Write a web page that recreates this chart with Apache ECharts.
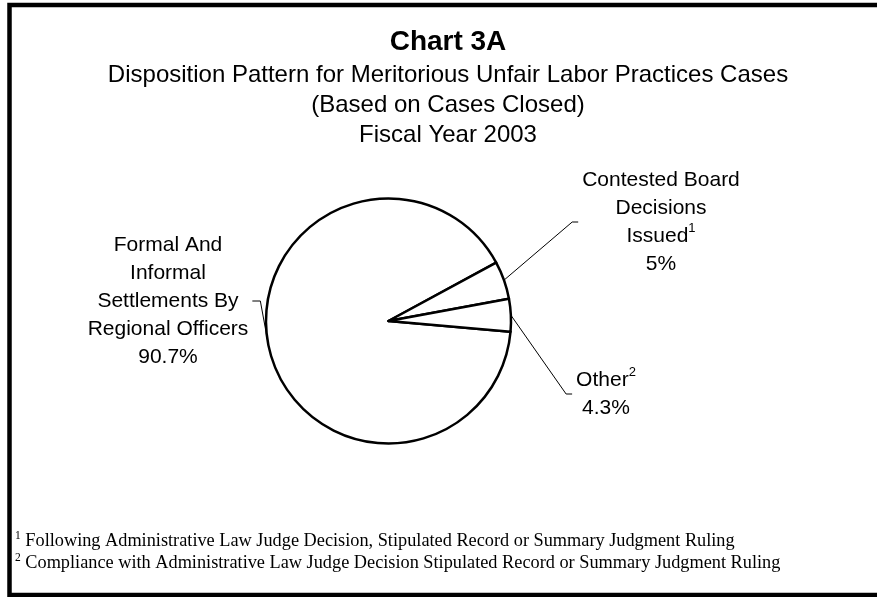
<!DOCTYPE html>
<html>
<head>
<meta charset="utf-8">
<title>Chart 3A</title>
<script src="https://cdn.jsdelivr.net/npm/echarts@6/dist/echarts.min.js"></script>
<style>
  html, body { margin: 0; padding: 0; background: #fff; }
  #chart { width: 877px; height: 597px; }
</style>
</head>
<body>
<div id="chart"></div>
<script>
// data
const categories = [
  'Formal And\nInformal\nSettlements By\nRegional Officers',
  'Contested Board\nDecisions\nIssued',
  'Other'
];
const noteMarks = ['', '1', '2'];
const shares = [90.7, 5, 4.3];

const titleText = 'Chart 3A';
const subtitleLines = [
  'Disposition Pattern for Meritorious Unfair Labor Practices Cases',
  '(Based on Cases Closed)',
  'Fiscal Year 2003'
];
const footnotes = [
  'Following Administrative Law Judge Decision, Stipulated Record or Summary Judgment Ruling',
  'Compliance with Administrative Law Judge Decision Stipulated Record or Summary Judgment Ruling'
];

// label block centres, and which side the leader line comes in from
const labelSpots = [
  { x: 168, y: 301, side: 'left' },
  { x: 661, y: 222, side: 'right' },
  { x: 606, y: 394, side: 'right' }
];

const sans = '"Liberation Sans", Arial, Helvetica, sans-serif';
const serif = '"Liberation Serif", "Times New Roman", serif';

const chart = echarts.init(document.getElementById('chart'));

const pieData = categories.map((name, i) => ({ name, value: shares[i] }));

const option = {
  backgroundColor: '#fff',
  animation: false,
  graphic: [
    {
      type: 'rect',
      silent: true,
      shape: { x: 9.5, y: 5, width: 900, height: 590 },
      style: { fill: 'none', stroke: '#000', lineWidth: 4.5 }
    },
    {
      type: 'text',
      x: 448,
      y: 42,
      style: {
        text: titleText,
        fontFamily: sans,
        fontWeight: 'bold',
        fontSize: 28,
        fill: '#000',
        align: 'center',
        verticalAlign: 'middle'
      }
    },
    {
      type: 'text',
      x: 448,
      y: 105,
      style: {
        text: subtitleLines.join('\n'),
        fontFamily: sans,
        fontSize: 24,
        lineHeight: 30,
        fill: '#000',
        align: 'center',
        verticalAlign: 'middle'
      }
    },
    {
      type: 'text',
      x: 15,
      y: 552,
      style: {
        text: footnotes.map((t, i) => '{s|' + (i + 1) + '} ' + t).join('\n'),
        fontFamily: serif,
        fontSize: 18.3,
        lineHeight: 22,
        fill: '#000',
        align: 'left',
        verticalAlign: 'middle',
        rich: {
          s: { fontFamily: serif, fontSize: 11.5, lineHeight: 8, verticalAlign: 'top', fill: '#000' }
        }
      }
    }
  ],
  series: [
    {
      type: 'pie',
      silent: true,
      center: [388.5, 321],
      radius: 122.5,
      startAngle: 355,
      clockwise: true,
      avoidLabelOverlap: false,
      itemStyle: { color: '#fff', borderColor: '#000', borderWidth: 2.5 },
      emphasis: { disabled: true },
      label: {
        show: true,
        position: 'outside',
        color: '#000',
        fontFamily: sans,
        fontSize: 21,
        lineHeight: 28,
        formatter: (p) => {
          const mark = noteMarks[p.dataIndex];
          return p.name + (mark ? '{sup|' + mark + '}' : '') + '\n' + p.value + '%';
        },
        rich: {
          sup: { fontFamily: sans, fontSize: 13, lineHeight: 15, verticalAlign: 'top', color: '#000' }
        }
      },
      labelLine: {
        show: true,
        length: 10,
        length2: 10,
        lineStyle: { color: '#000', width: 1 }
      },
      labelLayout: (params) => {
        const spot = labelSpots[params.dataIndex];
        const half = params.labelRect.width / 2;
        const start = params.labelLinePoints ? params.labelLinePoints[0] : [spot.x, spot.y];
        let end, elbow;
        if (spot.side === 'left') {
          end = [spot.x + half + 4, spot.y];
          elbow = [end[0] + 8, spot.y];
        } else {
          end = [spot.x - half - 4, spot.y];
          elbow = [end[0] - 6, spot.y];
        }
        return {
          x: spot.x,
          y: spot.y,
          align: 'center',
          verticalAlign: 'middle',
          labelLinePoints: [start, elbow, end]
        };
      },
      data: pieData
    }
  ]
};

chart.setOption(option);
</script>
</body>
</html>
